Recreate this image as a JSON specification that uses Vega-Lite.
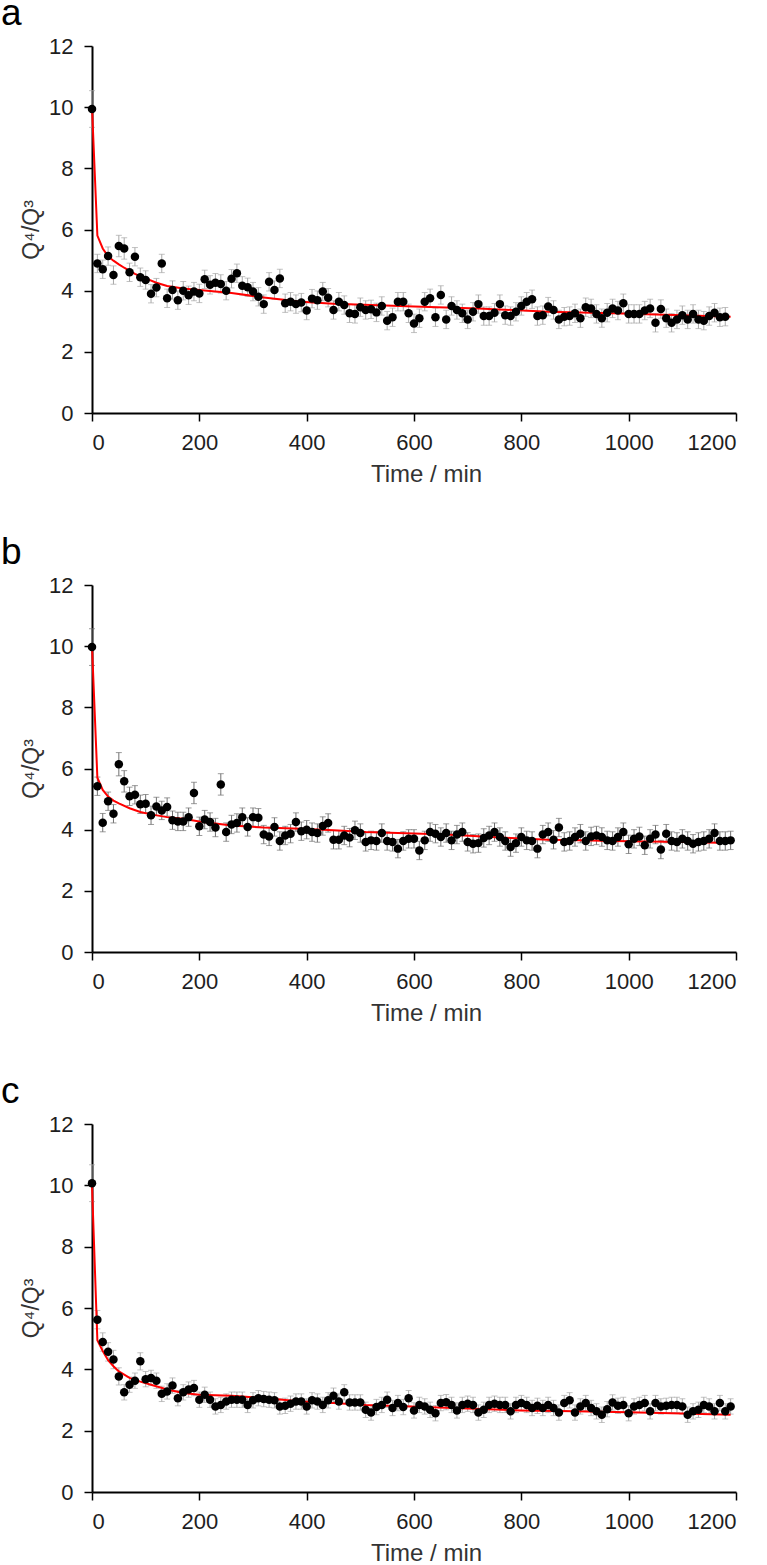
{
  "$schema": "https://vega.github.io/schema/vega-lite/v6.json",
  "autosize": "none",
  "padding": {"left": 92, "top": 46, "right": 675, "bottom": 1519},
  "background": "#ffffff",
  "config": {
    "view": {"stroke": null},
    "font": "Liberation Sans",
    "axis": {
      "grid": false,
      "domainColor": "#000000",
      "domainWidth": 2,
      "tickColor": "#000000",
      "tickWidth": 1.5,
      "tickSize": 8,
      "labelFont": "Liberation Sans",
      "labelFontSize": 22,
      "labelColor": "#1e1e1e",
      "labelPadding": 11,
      "titleFont": "Liberation Sans",
      "titleFontSize": 24,
      "titleFontWeight": "normal",
      "titleColor": "#333333",
      "format": "d"
    },
    "title": {"font": "Liberation Sans", "fontSize": 37, "fontWeight": "normal", "color": "#000000", "anchor": "start", "frame": "group", "dx": -91, "baseline": "alphabetic", "offset": 2}
  },
  "datasets": {
    "a": [
      {"t":0,"q":9.94,"e":0.6},{"t":10,"q":4.89,"e":0.3},{"t":20,"q":4.70,"e":0.3},{"t":30,"q":5.13,"e":0.3},{"t":40,"q":4.51,"e":0.3},{"t":50,"q":5.46,"e":0.35},{"t":60,"q":5.38,"e":0.35},{"t":70,"q":4.60,"e":0.3},{"t":80,"q":5.11,"e":0.3},{"t":90,"q":4.44,"e":0.3},
      {"t":100,"q":4.35,"e":0.3},{"t":110,"q":3.90,"e":0.3},{"t":120,"q":4.10,"e":0.3},{"t":130,"q":4.89,"e":0.3},{"t":140,"q":3.75,"e":0.3},{"t":150,"q":4.02,"e":0.3},{"t":160,"q":3.69,"e":0.3},{"t":170,"q":4.00,"e":0.3},{"t":180,"q":3.85,"e":0.3},{"t":190,"q":3.97,"e":0.3},
      {"t":200,"q":3.91,"e":0.3},{"t":210,"q":4.37,"e":0.3},{"t":220,"q":4.19,"e":0.3},{"t":230,"q":4.26,"e":0.3},{"t":240,"q":4.22,"e":0.3},{"t":250,"q":4.00,"e":0.3},{"t":260,"q":4.39,"e":0.3},{"t":270,"q":4.57,"e":0.3},{"t":280,"q":4.16,"e":0.3},{"t":290,"q":4.11,"e":0.3},
      {"t":300,"q":3.97,"e":0.3},{"t":310,"q":3.80,"e":0.3},{"t":320,"q":3.56,"e":0.3},{"t":330,"q":4.29,"e":0.3},{"t":340,"q":4.02,"e":0.3},{"t":350,"q":4.40,"e":0.3},{"t":360,"q":3.59,"e":0.3},{"t":370,"q":3.64,"e":0.3},{"t":380,"q":3.56,"e":0.3},{"t":390,"q":3.61,"e":0.3},
      {"t":400,"q":3.35,"e":0.3},{"t":410,"q":3.74,"e":0.3},{"t":420,"q":3.69,"e":0.3},{"t":430,"q":3.97,"e":0.3},{"t":440,"q":3.77,"e":0.3},{"t":450,"q":3.37,"e":0.3},{"t":460,"q":3.64,"e":0.3},{"t":470,"q":3.53,"e":0.3},{"t":480,"q":3.26,"e":0.3},{"t":490,"q":3.24,"e":0.3},
      {"t":500,"q":3.46,"e":0.3},{"t":510,"q":3.37,"e":0.3},{"t":520,"q":3.39,"e":0.3},{"t":530,"q":3.29,"e":0.3},{"t":540,"q":3.50,"e":0.3},{"t":550,"q":3.02,"e":0.3},{"t":560,"q":3.13,"e":0.3},{"t":570,"q":3.64,"e":0.3},{"t":580,"q":3.64,"e":0.3},{"t":590,"q":3.26,"e":0.3},
      {"t":600,"q":2.93,"e":0.3},{"t":610,"q":3.10,"e":0.3},{"t":620,"q":3.64,"e":0.3},{"t":630,"q":3.75,"e":0.3},{"t":640,"q":3.13,"e":0.3},{"t":650,"q":3.86,"e":0.3},{"t":660,"q":3.06,"e":0.3},{"t":670,"q":3.50,"e":0.3},{"t":680,"q":3.37,"e":0.3},{"t":690,"q":3.26,"e":0.3},
      {"t":700,"q":3.06,"e":0.3},{"t":710,"q":3.31,"e":0.3},{"t":720,"q":3.56,"e":0.3},{"t":730,"q":3.17,"e":0.3},{"t":740,"q":3.17,"e":0.3},{"t":750,"q":3.28,"e":0.3},{"t":760,"q":3.56,"e":0.3},{"t":770,"q":3.20,"e":0.3},{"t":780,"q":3.17,"e":0.3},{"t":790,"q":3.31,"e":0.3},
      {"t":800,"q":3.50,"e":0.3},{"t":810,"q":3.64,"e":0.3},{"t":820,"q":3.72,"e":0.3},{"t":830,"q":3.17,"e":0.3},{"t":840,"q":3.20,"e":0.3},{"t":850,"q":3.48,"e":0.3},{"t":860,"q":3.37,"e":0.3},{"t":870,"q":3.06,"e":0.3},{"t":880,"q":3.15,"e":0.3},{"t":890,"q":3.17,"e":0.3},
      {"t":900,"q":3.26,"e":0.3},{"t":910,"q":3.10,"e":0.3},{"t":920,"q":3.46,"e":0.3},{"t":930,"q":3.42,"e":0.3},{"t":940,"q":3.24,"e":0.3},{"t":950,"q":3.10,"e":0.3},{"t":960,"q":3.28,"e":0.3},{"t":970,"q":3.42,"e":0.3},{"t":980,"q":3.35,"e":0.3},{"t":990,"q":3.59,"e":0.3},
      {"t":1000,"q":3.24,"e":0.3},{"t":1010,"q":3.24,"e":0.3},{"t":1020,"q":3.24,"e":0.3},{"t":1030,"q":3.35,"e":0.3},{"t":1040,"q":3.42,"e":0.3},{"t":1050,"q":2.95,"e":0.3},{"t":1060,"q":3.40,"e":0.3},{"t":1070,"q":3.10,"e":0.3},{"t":1080,"q":2.95,"e":0.3},{"t":1090,"q":3.06,"e":0.3},
      {"t":1100,"q":3.20,"e":0.3},{"t":1110,"q":3.06,"e":0.3},{"t":1120,"q":3.24,"e":0.3},{"t":1130,"q":3.06,"e":0.3},{"t":1140,"q":3.02,"e":0.3},{"t":1150,"q":3.17,"e":0.3},{"t":1160,"q":3.28,"e":0.3},{"t":1170,"q":3.13,"e":0.3},{"t":1180,"q":3.15,"e":0.3}
    ],
    "fitA": [
      {"t":0,"q":10.0},{"t":10,"q":5.8},{"t":20,"q":5.38},{"t":30,"q":5.12},{"t":40,"q":4.98},{"t":50,"q":4.86},{"t":60,"q":4.75},{"t":70,"q":4.65},{"t":80,"q":4.55},{"t":100,"q":4.40},{"t":120,"q":4.26},{"t":140,"q":4.15},{"t":170,"q":4.07},{"t":200,"q":4.02},{"t":260,"q":3.92},{"t":320,"q":3.78},{"t":390,"q":3.64},{"t":450,"q":3.57},{"t":520,"q":3.53},{"t":600,"q":3.48},{"t":720,"q":3.42},{"t":850,"q":3.31},{"t":970,"q":3.26},{"t":1100,"q":3.20},{"t":1190,"q":3.15}
    ],
    "b": [
      {"t":0,"q":9.97,"e":0.6},{"t":10,"q":5.42,"e":0.3},{"t":20,"q":4.23,"e":0.3},{"t":30,"q":4.93,"e":0.3},{"t":40,"q":4.52,"e":0.3},{"t":50,"q":6.14,"e":0.38},{"t":60,"q":5.58,"e":0.35},{"t":70,"q":5.09,"e":0.3},{"t":80,"q":5.14,"e":0.3},{"t":90,"q":4.83,"e":0.3},
      {"t":100,"q":4.85,"e":0.3},{"t":110,"q":4.47,"e":0.3},{"t":120,"q":4.76,"e":0.3},{"t":130,"q":4.63,"e":0.3},{"t":140,"q":4.74,"e":0.3},{"t":150,"q":4.31,"e":0.3},{"t":160,"q":4.27,"e":0.3},{"t":170,"q":4.27,"e":0.3},{"t":180,"q":4.41,"e":0.3},{"t":190,"q":5.20,"e":0.35},
      {"t":200,"q":4.11,"e":0.3},{"t":210,"q":4.33,"e":0.3},{"t":220,"q":4.25,"e":0.3},{"t":230,"q":4.07,"e":0.3},{"t":240,"q":5.48,"e":0.35},{"t":250,"q":3.92,"e":0.3},{"t":260,"q":4.17,"e":0.3},{"t":270,"q":4.22,"e":0.3},{"t":280,"q":4.41,"e":0.3},{"t":290,"q":4.09,"e":0.3},
      {"t":300,"q":4.41,"e":0.3},{"t":310,"q":4.39,"e":0.3},{"t":320,"q":3.84,"e":0.3},{"t":330,"q":3.78,"e":0.3},{"t":340,"q":4.09,"e":0.3},{"t":350,"q":3.63,"e":0.3},{"t":360,"q":3.81,"e":0.3},{"t":370,"q":3.87,"e":0.3},{"t":380,"q":4.25,"e":0.3},{"t":390,"q":3.95,"e":0.3},
      {"t":400,"q":4.00,"e":0.3},{"t":410,"q":3.92,"e":0.3},{"t":420,"q":3.89,"e":0.3},{"t":430,"q":4.12,"e":0.3},{"t":440,"q":4.22,"e":0.3},{"t":450,"q":3.67,"e":0.3},{"t":460,"q":3.67,"e":0.3},{"t":470,"q":3.81,"e":0.3},{"t":480,"q":3.74,"e":0.3},{"t":490,"q":3.98,"e":0.3},
      {"t":500,"q":3.89,"e":0.3},{"t":510,"q":3.60,"e":0.3},{"t":520,"q":3.65,"e":0.3},{"t":530,"q":3.63,"e":0.3},{"t":540,"q":3.89,"e":0.3},{"t":550,"q":3.63,"e":0.3},{"t":560,"q":3.60,"e":0.3},{"t":570,"q":3.38,"e":0.3},{"t":580,"q":3.63,"e":0.3},{"t":590,"q":3.70,"e":0.3},
      {"t":600,"q":3.70,"e":0.3},{"t":610,"q":3.32,"e":0.3},{"t":620,"q":3.65,"e":0.3},{"t":630,"q":3.92,"e":0.3},{"t":640,"q":3.87,"e":0.3},{"t":650,"q":3.76,"e":0.3},{"t":660,"q":3.89,"e":0.3},{"t":670,"q":3.65,"e":0.3},{"t":680,"q":3.84,"e":0.3},{"t":690,"q":3.92,"e":0.3},
      {"t":700,"q":3.60,"e":0.3},{"t":710,"q":3.54,"e":0.3},{"t":720,"q":3.56,"e":0.3},{"t":730,"q":3.73,"e":0.3},{"t":740,"q":3.81,"e":0.3},{"t":750,"q":3.92,"e":0.3},{"t":760,"q":3.76,"e":0.3},{"t":770,"q":3.63,"e":0.3},{"t":780,"q":3.43,"e":0.3},{"t":790,"q":3.56,"e":0.3},
      {"t":800,"q":3.76,"e":0.3},{"t":810,"q":3.65,"e":0.3},{"t":820,"q":3.63,"e":0.3},{"t":830,"q":3.38,"e":0.3},{"t":840,"q":3.84,"e":0.3},{"t":850,"q":3.92,"e":0.3},{"t":860,"q":3.67,"e":0.3},{"t":870,"q":4.07,"e":0.3},{"t":880,"q":3.60,"e":0.3},{"t":890,"q":3.63,"e":0.3},
      {"t":900,"q":3.76,"e":0.3},{"t":910,"q":3.87,"e":0.3},{"t":920,"q":3.63,"e":0.3},{"t":930,"q":3.78,"e":0.3},{"t":940,"q":3.81,"e":0.3},{"t":950,"q":3.76,"e":0.3},{"t":960,"q":3.65,"e":0.3},{"t":970,"q":3.63,"e":0.3},{"t":980,"q":3.76,"e":0.3},{"t":990,"q":3.92,"e":0.3},
      {"t":1000,"q":3.52,"e":0.3},{"t":1010,"q":3.70,"e":0.3},{"t":1020,"q":3.78,"e":0.3},{"t":1030,"q":3.49,"e":0.3},{"t":1040,"q":3.70,"e":0.3},{"t":1050,"q":3.84,"e":0.3},{"t":1060,"q":3.35,"e":0.3},{"t":1070,"q":3.87,"e":0.3},{"t":1080,"q":3.63,"e":0.3},{"t":1090,"q":3.60,"e":0.3},
      {"t":1100,"q":3.70,"e":0.3},{"t":1110,"q":3.63,"e":0.3},{"t":1120,"q":3.54,"e":0.3},{"t":1130,"q":3.60,"e":0.3},{"t":1140,"q":3.63,"e":0.3},{"t":1150,"q":3.70,"e":0.3},{"t":1160,"q":3.89,"e":0.3},{"t":1170,"q":3.63,"e":0.3},{"t":1180,"q":3.63,"e":0.3},{"t":1190,"q":3.65,"e":0.3}
    ],
    "fitB": [
      {"t":0,"q":10.0},{"t":10,"q":5.7},{"t":20,"q":5.3},{"t":30,"q":5.08},{"t":40,"q":4.95},{"t":50,"q":4.86},{"t":70,"q":4.7},{"t":90,"q":4.58},{"t":110,"q":4.5},{"t":140,"q":4.41},{"t":170,"q":4.36},{"t":200,"q":4.27},{"t":260,"q":4.14},{"t":320,"q":4.07},{"t":390,"q":4.03},{"t":450,"q":3.98},{"t":510,"q":3.92},{"t":570,"q":3.89},{"t":660,"q":3.84},{"t":780,"q":3.73},{"t":850,"q":3.67},{"t":910,"q":3.65},{"t":970,"q":3.63},{"t":1100,"q":3.6},{"t":1190,"q":3.56}
    ],
    "c": [
      {"t":0,"q":10.07,"e":0.6},{"t":10,"q":5.62,"e":0.3},{"t":20,"q":4.89,"e":0.3},{"t":30,"q":4.57,"e":0.3},{"t":40,"q":4.32,"e":0.3},{"t":50,"q":3.77,"e":0.28},{"t":60,"q":3.25,"e":0.25},{"t":70,"q":3.50,"e":0.25},{"t":80,"q":3.63,"e":0.25},{"t":90,"q":4.26,"e":0.28},
      {"t":100,"q":3.68,"e":0.25},{"t":110,"q":3.72,"e":0.25},{"t":120,"q":3.63,"e":0.25},{"t":130,"q":3.20,"e":0.25},{"t":140,"q":3.28,"e":0.25},{"t":150,"q":3.47,"e":0.25},{"t":160,"q":3.06,"e":0.25},{"t":170,"q":3.25,"e":0.25},{"t":180,"q":3.34,"e":0.25},{"t":190,"q":3.39,"e":0.25},
      {"t":200,"q":3.01,"e":0.25},{"t":210,"q":3.17,"e":0.25},{"t":220,"q":3.01,"e":0.25},{"t":230,"q":2.79,"e":0.25},{"t":240,"q":2.84,"e":0.25},{"t":250,"q":2.95,"e":0.25},{"t":260,"q":3.01,"e":0.25},{"t":270,"q":3.01,"e":0.25},{"t":280,"q":3.01,"e":0.25},{"t":290,"q":2.84,"e":0.25},
      {"t":300,"q":2.99,"e":0.25},{"t":310,"q":3.06,"e":0.25},{"t":320,"q":3.03,"e":0.25},{"t":330,"q":3.01,"e":0.25},{"t":340,"q":2.99,"e":0.25},{"t":350,"q":2.79,"e":0.25},{"t":360,"q":2.81,"e":0.25},{"t":370,"q":2.88,"e":0.25},{"t":380,"q":2.95,"e":0.25},{"t":390,"q":2.95,"e":0.25},
      {"t":400,"q":2.79,"e":0.25},{"t":410,"q":2.99,"e":0.25},{"t":420,"q":2.95,"e":0.25},{"t":430,"q":2.84,"e":0.25},{"t":440,"q":2.99,"e":0.25},{"t":450,"q":3.14,"e":0.25},{"t":460,"q":2.95,"e":0.25},{"t":470,"q":3.25,"e":0.25},{"t":480,"q":2.92,"e":0.25},{"t":490,"q":2.92,"e":0.25},
      {"t":500,"q":2.92,"e":0.25},{"t":510,"q":2.68,"e":0.25},{"t":520,"q":2.59,"e":0.25},{"t":530,"q":2.77,"e":0.25},{"t":540,"q":2.84,"e":0.25},{"t":550,"q":3.01,"e":0.25},{"t":560,"q":2.74,"e":0.25},{"t":570,"q":2.90,"e":0.25},{"t":580,"q":2.77,"e":0.25},{"t":590,"q":3.06,"e":0.25},
      {"t":600,"q":2.66,"e":0.25},{"t":610,"q":2.84,"e":0.25},{"t":620,"q":2.79,"e":0.25},{"t":630,"q":2.68,"e":0.25},{"t":640,"q":2.57,"e":0.25},{"t":650,"q":2.90,"e":0.25},{"t":660,"q":2.93,"e":0.25},{"t":670,"q":2.84,"e":0.25},{"t":680,"q":2.66,"e":0.25},{"t":690,"q":2.84,"e":0.25},
      {"t":700,"q":2.88,"e":0.25},{"t":710,"q":2.84,"e":0.25},{"t":720,"q":2.59,"e":0.25},{"t":730,"q":2.68,"e":0.25},{"t":740,"q":2.84,"e":0.25},{"t":750,"q":2.88,"e":0.25},{"t":760,"q":2.84,"e":0.25},{"t":770,"q":2.84,"e":0.25},{"t":780,"q":2.63,"e":0.25},{"t":790,"q":2.84,"e":0.25},
      {"t":800,"q":2.90,"e":0.25},{"t":810,"q":2.84,"e":0.25},{"t":820,"q":2.74,"e":0.25},{"t":830,"q":2.81,"e":0.25},{"t":840,"q":2.74,"e":0.25},{"t":850,"q":2.84,"e":0.25},{"t":860,"q":2.74,"e":0.25},{"t":870,"q":2.59,"e":0.25},{"t":880,"q":2.90,"e":0.25},{"t":890,"q":2.99,"e":0.25},
      {"t":900,"q":2.59,"e":0.25},{"t":910,"q":2.79,"e":0.25},{"t":920,"q":2.90,"e":0.25},{"t":930,"q":2.74,"e":0.25},{"t":940,"q":2.63,"e":0.25},{"t":950,"q":2.52,"e":0.25},{"t":960,"q":2.70,"e":0.25},{"t":970,"q":2.92,"e":0.25},{"t":980,"q":2.81,"e":0.25},{"t":990,"q":2.84,"e":0.25},
      {"t":1000,"q":2.57,"e":0.25},{"t":1010,"q":2.79,"e":0.25},{"t":1020,"q":2.84,"e":0.25},{"t":1030,"q":2.90,"e":0.25},{"t":1040,"q":2.63,"e":0.25},{"t":1050,"q":2.90,"e":0.25},{"t":1060,"q":2.79,"e":0.25},{"t":1070,"q":2.81,"e":0.25},{"t":1080,"q":2.84,"e":0.25},{"t":1090,"q":2.84,"e":0.25},
      {"t":1100,"q":2.79,"e":0.25},{"t":1110,"q":2.52,"e":0.25},{"t":1120,"q":2.63,"e":0.25},{"t":1130,"q":2.68,"e":0.25},{"t":1140,"q":2.84,"e":0.25},{"t":1150,"q":2.79,"e":0.25},{"t":1160,"q":2.63,"e":0.25},{"t":1170,"q":2.90,"e":0.25},{"t":1180,"q":2.63,"e":0.25},{"t":1190,"q":2.79,"e":0.25}
    ],
    "fitC": [
      {"t":0,"q":10.0},{"t":10,"q":4.95},{"t":20,"q":4.6},{"t":30,"q":4.3},{"t":40,"q":4.1},{"t":50,"q":3.93},{"t":70,"q":3.72},{"t":90,"q":3.6},{"t":110,"q":3.5},{"t":140,"q":3.34},{"t":170,"q":3.23},{"t":200,"q":3.17},{"t":260,"q":3.14},{"t":330,"q":3.05},{"t":390,"q":2.95},{"t":450,"q":2.9},{"t":510,"q":2.84},{"t":580,"q":2.8},{"t":700,"q":2.72},{"t":800,"q":2.66},{"t":900,"q":2.63},{"t":1000,"q":2.6},{"t":1100,"q":2.56},{"t":1190,"q":2.52}
    ]
  },
  "vconcat": [
    {
      "width": 644, "height": 367,
      "title": {"text": "a"},
      "encoding": {
        "x": {"field": "t", "type": "quantitative", "scale": {"domain": [0, 1200], "nice": false}, "axis": {"values": [0, 200, 400, 600, 800, 1000, 1200], "title": "Time / min", "titlePadding": 9, "titleX": 334}},
        "y": {"field": "q", "type": "quantitative", "scale": {"domain": [0, 12], "nice": false}, "axis": {"values": [0, 2, 4, 6, 8, 10, 12], "title": "Q⁴/Q³", "titleFontSize": 23, "titlePadding": 5}}
      },
      "layer": [
        {"data": {"name": "a"}, "mark": {"type": "errorbar", "color": "#a8a8a8", "thickness": 1, "ticks": {"size": 6, "thickness": 1}}, "encoding": {"yError": {"field": "e"}}},
        {"data": {"name": "fitA"}, "mark": {"type": "line", "color": "#ff0000", "strokeWidth": 2}},
        {"data": {"name": "a"}, "mark": {"type": "point", "shape": "circle", "filled": true, "color": "#000000", "opacity": 1, "size": 72}}
      ]
    },
    {
      "width": 644, "height": 367,
      "title": {"text": "b"},
      "encoding": {
        "x": {"field": "t", "type": "quantitative", "scale": {"domain": [0, 1200], "nice": false}, "axis": {"values": [0, 200, 400, 600, 800, 1000, 1200], "title": "Time / min", "titlePadding": 9, "titleX": 334}},
        "y": {"field": "q", "type": "quantitative", "scale": {"domain": [0, 12], "nice": false}, "axis": {"values": [0, 2, 4, 6, 8, 10, 12], "title": "Q⁴/Q³", "titleFontSize": 23, "titlePadding": 5}}
      },
      "layer": [
        {"data": {"name": "b"}, "mark": {"type": "errorbar", "color": "#707070", "thickness": 1, "ticks": {"size": 6, "thickness": 1}}, "encoding": {"yError": {"field": "e"}}},
        {"data": {"name": "fitB"}, "mark": {"type": "line", "color": "#ff0000", "strokeWidth": 2}},
        {"data": {"name": "b"}, "mark": {"type": "point", "shape": "circle", "filled": true, "color": "#000000", "opacity": 1, "size": 72}}
      ]
    },
    {
      "width": 644, "height": 368,
      "title": {"text": "c"},
      "encoding": {
        "x": {"field": "t", "type": "quantitative", "scale": {"domain": [0, 1200], "nice": false}, "axis": {"values": [0, 200, 400, 600, 800, 1000, 1200], "title": "Time / min", "titlePadding": 9, "titleX": 334}},
        "y": {"field": "q", "type": "quantitative", "scale": {"domain": [0, 12], "nice": false}, "axis": {"values": [0, 2, 4, 6, 8, 10, 12], "title": "Q⁴/Q³", "titleFontSize": 23, "titlePadding": 5}}
      },
      "layer": [
        {"data": {"name": "c"}, "mark": {"type": "errorbar", "color": "#a8a8a8", "thickness": 1, "ticks": {"size": 6, "thickness": 1}}, "encoding": {"yError": {"field": "e"}}},
        {"data": {"name": "fitC"}, "mark": {"type": "line", "color": "#ff0000", "strokeWidth": 2}},
        {"data": {"name": "c"}, "mark": {"type": "point", "shape": "circle", "filled": true, "color": "#000000", "opacity": 1, "size": 72}}
      ]
    }
  ],
  "bounds": "flush",
  "spacing": 172
}
